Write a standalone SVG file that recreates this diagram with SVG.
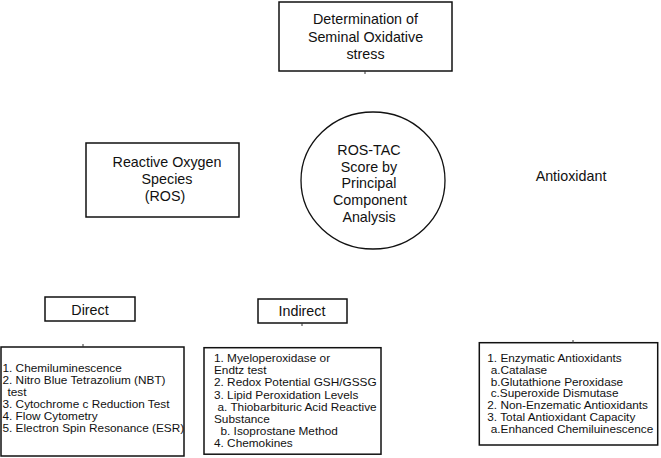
<svg xmlns="http://www.w3.org/2000/svg" width="661" height="458" viewBox="0 0 661 458">
<style>
  .box{fill:#fff;stroke:#111;stroke-width:1.5}
  .t{font-family:"Liberation Sans",Arial,sans-serif;fill:#111}
  .big{font-size:14.3px;text-anchor:middle}
  .sm{font-size:11.8px}
  .stub{stroke:#333;stroke-width:1}
</style>
<rect width="661" height="458" fill="#fff"/>
<g id="determination">
  <rect class="box" x="279" y="2" width="173" height="69"/>
  <text class="t big" x="365.5" y="24">Determination of</text>
  <text class="t big" x="365.5" y="41.7">Seminal Oxidative</text>
  <text class="t big" x="365.5" y="59.3">stress</text>
</g>
<g id="ros">
  <rect class="box" x="86" y="143" width="153" height="74"/>
  <text class="t big" x="167" y="167.3">Reactive Oxygen</text>
  <text class="t big" x="167" y="184.3">Species</text>
  <text class="t big" x="165" y="201">(ROS)</text>
</g>
<g id="rostac">
  <ellipse class="box" cx="373" cy="180.5" rx="72" ry="68.5" style="stroke-width:1.3"/>
  <text class="t big" x="369" y="155">ROS-TAC</text>
  <text class="t big" x="369" y="171.7">Score by</text>
  <text class="t big" x="369" y="188.3">Principal</text>
  <text class="t big" x="370" y="205">Component</text>
  <text class="t big" x="369" y="221.7">Analysis</text>
</g>
<g id="antioxidant">
  <text class="t big" x="571" y="181">Antioxidant</text>
</g>
<g id="direct">
  <rect class="box" x="45" y="297" width="90" height="24"/>
  <text class="t big" x="90" y="314.5">Direct</text>
</g>
<g id="indirect">
  <rect class="box" x="258" y="299" width="89" height="24"/>
  <text class="t big" x="302" y="316">Indirect</text>
</g>
<g id="direct-list">
  <rect class="box" x="1" y="347" width="183" height="109"/>
  <text class="t sm" x="2.5" y="372">1. Chemiluminescence</text>
  <text class="t sm" x="2.5" y="383.9">2. Nitro Blue Tetrazolium (NBT)</text>
  <text class="t sm" x="7.5" y="395.8">test</text>
  <text class="t sm" x="2.5" y="407.7">3. Cytochrome c Reduction Test</text>
  <text class="t sm" x="2.5" y="419.6">4. Flow Cytometry</text>
  <text class="t sm" x="2.5" y="431.5">5. Electron Spin Resonance (ESR)</text>
</g>
<g id="indirect-list">
  <rect class="box" x="204" y="347.7" width="177" height="106.5"/>
  <text class="t sm" x="214" y="362.3">1. Myeloperoxidase or</text>
  <text class="t sm" x="214" y="374.4">Endtz test</text>
  <text class="t sm" x="214" y="386.4">2. Redox Potential GSH/GSSG</text>
  <text class="t sm" x="214" y="398.5">3. Lipid Peroxidation Levels</text>
  <text class="t sm" x="217.5" y="410.5">a. Thiobarbituric Acid Reactive</text>
  <text class="t sm" x="214" y="422.6">Substance</text>
  <text class="t sm" x="220.5" y="434.6">b. Isoprostane Method</text>
  <text class="t sm" x="214" y="446.7">4. Chemokines</text>
</g>
<g id="antioxidant-list">
  <rect class="box" x="479.3" y="342.7" width="178.4" height="102.3"/>
  <text class="t sm" x="487.3" y="362.3">1. Enzymatic Antioxidants</text>
  <text class="t sm" x="490.7" y="374">a.Catalase</text>
  <text class="t sm" x="490.7" y="385.7">b.Glutathione Peroxidase</text>
  <text class="t sm" x="490.7" y="397.4">c.Superoxide Dismutase</text>
  <text class="t sm" x="487.3" y="409.1">2. Non-Enzematic Antioxidants</text>
  <text class="t sm" x="487.3" y="420.8">3. Total Antioxidant Capacity</text>
  <text class="t sm" x="490.7" y="432.5">a.Enhanced Chemiluinescence</text>
</g>
<g id="connectors">
  <line class="stub" x1="365" y1="71" x2="365" y2="74"/>
  <line class="stub" x1="302" y1="323" x2="302" y2="326"/>
  <line class="stub" x1="83" y1="344" x2="83" y2="347"/>
  <line class="stub" x1="573" y1="340" x2="573" y2="343"/>
</g>
</svg>
